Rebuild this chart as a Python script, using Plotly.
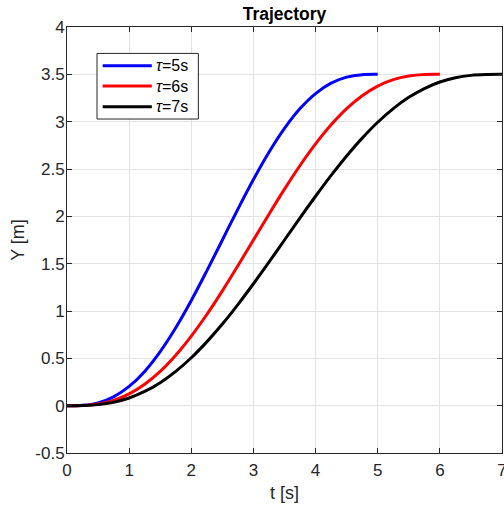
import plotly.graph_objects as go

t5 = [0, 0.25, 0.5, 0.75, 1, 1.25, 1.5, 1.75, 2, 2.25, 2.5, 2.75, 3, 3.25, 3.5, 3.75, 4, 4.25, 4.5, 4.75, 5]
y5 = [0, 0.004, 0.030, 0.093, 0.203, 0.362, 0.571, 0.823, 1.111, 1.424, 1.75, 2.076, 2.389, 2.677, 2.929, 3.138, 3.297, 3.407, 3.470, 3.496, 3.5]

t6 = [0, 0.25, 0.5, 0.75, 1, 1.25, 1.5, 1.75, 2, 2.25, 2.5, 2.75, 3, 3.25, 3.5, 3.75, 4, 4.25, 4.5, 4.75, 5, 5.25, 5.5, 5.75, 6]
y6 = [0, 0.002, 0.018, 0.056, 0.124, 0.226, 0.362, 0.533, 0.735, 0.963, 1.213, 1.478, 1.75, 2.022, 2.287, 2.537, 2.765, 2.967, 3.138, 3.274, 3.376, 3.444, 3.482, 3.498, 3.5]

t7 = [0, 0.25, 0.5, 0.75, 1, 1.25, 1.5, 1.75, 2, 2.25, 2.5, 2.75, 3, 3.25, 3.5, 3.75, 4, 4.25, 4.5, 4.75, 5, 5.25, 5.5, 5.75, 6, 6.25, 6.5, 6.75, 7]
y7 = [0, 0.002, 0.011, 0.036, 0.081, 0.150, 0.243, 0.362, 0.506, 0.674, 0.862, 1.068, 1.288, 1.516, 1.75, 1.984, 2.212, 2.432, 2.638, 2.826, 2.994, 3.138, 3.257, 3.350, 3.419, 3.464, 3.489, 3.498, 3.5]

names = ["<i>τ</i>=5s", "<i>τ</i>=6s", "<i>τ</i>=7s"]
colors = ["#0000ff", "#ff0000", "#000000"]

x_ticks = [0, 1, 2, 3, 4, 5, 6, 7]
x_ticklabels = ["0", "1", "2", "3", "4", "5", "6", "7"]
y_ticks = [-0.5, 0, 0.5, 1, 1.5, 2, 2.5, 3, 3.5, 4]
y_ticklabels = ["-0.5", "0", "0.5", "1", "1.5", "2", "2.5", "3", "3.5", "4"]

fig = go.Figure()
for (tx, yy), nm, c in zip([(t5, y5), (t6, y6), (t7, y7)], names, colors):
    fig.add_trace(go.Scatter(x=tx, y=yy, mode="lines", name=nm, showlegend=False,
                             line=dict(color=c, width=3, shape="spline")))

# manual legend (MATLAB-style long line samples)
leg_box = dict(x0=0.069, x1=0.302, y0=0.784, y1=0.938)
fig.add_shape(type="rect", xref="paper", yref="paper", **leg_box,
              line=dict(color="#262626", width=1), fillcolor="white", layer="above")
leg_y = [0.909, 0.8615, 0.813]
for nm, c, ly in zip(names, colors, leg_y):
    fig.add_shape(type="line", xref="paper", yref="paper", x0=0.082, x1=0.195,
                  y0=ly, y1=ly, line=dict(color=c, width=3), layer="above")
    fig.add_annotation(xref="paper", yref="paper", x=0.201, y=ly, text=nm,
                       showarrow=False, xanchor="left", yanchor="middle",
                       font=dict(size=16, color="#000000"))

axcol = "#262626"
fig.update_layout(
    width=504, height=507,
    margin=dict(l=67, r=2, t=27, b=54, autoexpand=False),
    paper_bgcolor="white", plot_bgcolor="white",
    font=dict(family="Liberation Sans, Arial", size=17, color=axcol),
    title=dict(text="<b>Trajectory</b>", x=0.5, xanchor="center", xref="paper",
               y=1 - 14 / 507, yref="container", yanchor="middle",
               font=dict(size=17.5, color="#000000")),
    showlegend=False,
)
fig.update_xaxes(range=[0, 7], tickvals=x_ticks, ticktext=x_ticklabels,
                 tickfont=dict(size=17, color=axcol), ticklabeloverflow="allow",
                 automargin=False,
                 showgrid=True, gridcolor="#e3e3e3",
                 showline=True, linecolor=axcol, linewidth=1, mirror="ticks",
                 ticks="inside", ticklen=5, tickcolor=axcol, zeroline=False,
                 ticklabelstandoff=2,
                 title=dict(text="t [s]", font=dict(size=18), standoff=6))
fig.update_yaxes(range=[-0.5, 4], tickvals=y_ticks, ticktext=y_ticklabels,
                 tickfont=dict(size=17, color=axcol), automargin=False,
                 showgrid=True, gridcolor="#e3e3e3",
                 showline=True, linecolor=axcol, linewidth=1, mirror="ticks",
                 ticks="inside", ticklen=5, tickcolor=axcol, zeroline=False,
                 ticklabelstandoff=-2,
                 title=dict(text="Y [m]", font=dict(size=18), standoff=6))

fig.write_html("out.html")
